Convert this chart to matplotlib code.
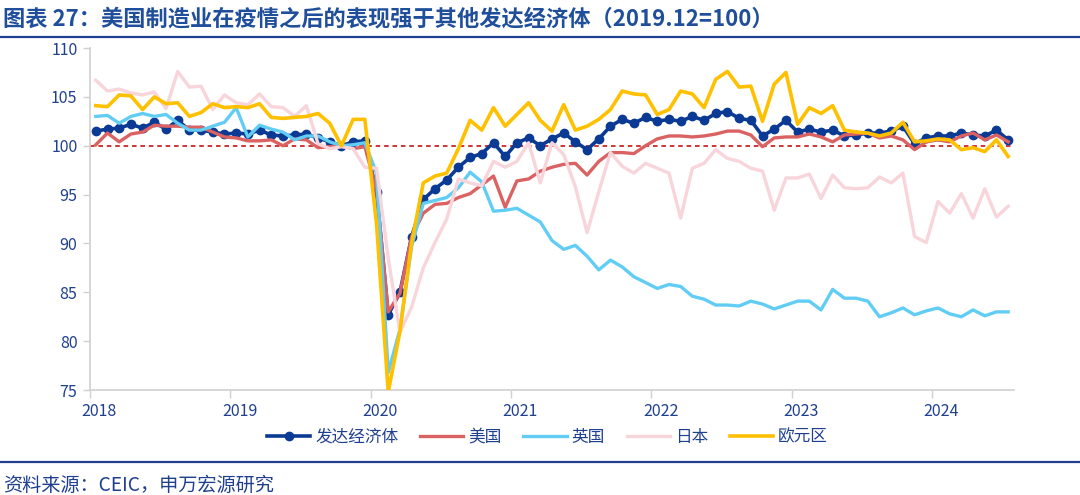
import numpy as np
import matplotlib.pyplot as plt
from matplotlib.lines import Line2D

plt.rcParams['font.family'] = ['Noto Sans CJK SC', 'DejaVu Sans']

# 月度数据 2018.01 - 2024.07 (2019.12=100)
years = ['2018', '2019', '2020', '2021', '2022', '2023', '2024']

dev_econ = [101.5, 101.7, 101.8, 102.2, 101.8, 102.4, 101.7, 102.6, 101.6, 101.6, 101.4, 101.2,
            101.3, 101.2, 101.6, 101.1, 101.0, 101.1, 101.2, 100.8, 100.4, 100.0, 100.4, 100.5,
            95.3, 82.7, 85.0, 90.7, 94.5, 95.6, 96.5, 97.8, 98.8, 99.2, 100.3, 98.9,
            100.3, 100.8, 100.0, 100.7, 101.3, 100.4, 99.6, 100.7, 102.0, 102.7, 102.3, 102.9,
            102.5, 102.7, 102.5, 103.0, 102.6, 103.3, 103.5, 102.8, 102.6, 101.0, 101.7, 102.6,
            101.4, 101.7, 101.4, 101.6, 101.0, 101.1, 101.3, 101.3, 101.5, 102.0, 100.2, 100.8,
            101.0, 101.0, 101.3, 101.1, 101.0, 101.6, 100.6]

usa = [100.1, 101.3, 100.4, 101.2, 101.4, 102.1, 102.0, 102.0, 101.9, 101.9, 101.4, 100.9,
       100.8, 100.5, 100.5, 100.6, 100.0, 100.7, 100.6, 99.8, 99.9, 100.0, 99.7, 99.9,
       95.5, 83.0, 84.9, 90.7, 93.1, 94.0, 94.1, 94.7, 95.1, 96.0, 96.9, 93.7,
       96.4, 96.6, 97.4, 97.8, 98.1, 98.2, 97.0, 98.4, 99.3, 99.3, 99.2, 100.0,
       100.7, 101.0, 101.0, 100.9, 101.0, 101.2, 101.5, 101.5, 101.1, 99.9, 100.8, 100.9,
       100.9, 101.2, 100.9, 100.4, 101.1, 101.2, 101.3, 100.8, 101.0, 100.6, 99.6, 100.4,
       100.6, 100.4, 101.0, 101.3, 100.6, 101.1, 100.4]

uk = [103.0, 103.1, 102.3, 103.0, 103.3, 103.0, 103.2, 102.3, 101.6, 101.6, 102.0, 102.4,
      103.9, 100.9, 102.1, 101.7, 101.4, 100.6, 101.0, 101.0, 100.4, 100.0, 100.1, 100.3,
      97.2, 76.8, 81.2, 89.7, 94.1, 94.4, 94.7, 95.7, 97.3, 96.3, 93.3, 93.4,
      93.6, 92.9, 92.2, 90.3, 89.4, 89.8, 88.7, 87.3, 88.3, 87.6, 86.6, 86.0,
      85.4, 85.8, 85.6, 84.6, 84.3, 83.7, 83.7, 83.6, 84.1, 83.8, 83.3, 83.7,
      84.1, 84.1, 83.2, 85.3, 84.4, 84.4, 84.1, 82.5, 82.9, 83.4, 82.7, 83.1,
      83.4, 82.8, 82.5, 83.2, 82.6, 83.0, 83.0]

japan = [106.7, 105.6, 105.8, 105.4, 105.2, 105.5, 103.8, 107.6, 106.0, 106.1, 103.7, 105.2,
         104.4, 104.2, 105.3, 104.0, 103.9, 103.0, 104.1, 100.2, 99.7, 99.9, 99.7, 97.8,
         97.7, 88.5, 80.9, 83.5, 87.5, 90.1, 92.5, 96.6, 96.2, 95.9, 98.4, 97.8,
         98.4, 100.3, 96.2, 100.3, 99.1, 95.8, 91.1, 95.3, 99.3, 97.9, 97.2, 98.2,
         97.7, 97.2, 92.6, 97.7, 98.2, 99.6, 98.7, 98.4, 97.7, 97.4, 93.4, 96.7,
         96.7, 97.1, 94.6, 97.0, 95.7, 95.6, 95.7, 96.8, 96.2, 97.2, 90.7, 90.1,
         94.3, 93.1, 95.1, 92.6, 95.6, 92.7, 93.8]

euro = [104.1, 104.0, 105.2, 105.1, 103.7, 105.0, 104.3, 104.4, 103.0, 103.4, 104.3, 103.9,
        104.0, 103.9, 104.3, 102.9, 102.8, 102.9, 103.0, 103.3, 102.3, 100.0, 102.7, 102.7,
        92.0, 74.8, 81.0, 90.1, 96.2, 96.9, 97.2, 99.7, 102.6, 101.6, 103.9, 102.0,
        103.2, 104.4, 102.6, 101.5, 104.2, 101.6, 102.0, 102.7, 103.7, 105.6, 105.3, 105.2,
        103.2, 103.7, 105.6, 105.3, 103.9, 106.8, 107.6, 106.0, 106.1, 102.5, 106.3, 107.5,
        102.2, 103.9, 103.3, 104.1, 101.6, 101.4, 101.3, 101.0, 101.3, 102.4, 100.4, 100.5,
        100.7, 100.6, 99.6, 99.8, 99.4, 100.6, 98.9]

text_color = '#1F3F8F'
x = np.arange(len(dev_econ))

fig = plt.figure(figsize=(10.8, 4.95), dpi=100)
ax = fig.add_axes([0.0833, 0.212, 0.8556, 0.691])

ax.axhline(100, color='#C00000', lw=1.1, ls=(0, (3, 2.5)), zorder=1)
ax.plot(x, dev_econ, color='#0B3A94', lw=2.6, marker='o', ms=6, zorder=2, label='发达经济体')
ax.plot(x, usa, color='#DA6262', lw=2.4, zorder=3, label='美国')
ax.plot(x, uk, color='#62CDF4', lw=2.4, zorder=4, label='英国')
ax.plot(x, japan, color='#F8D4DB', lw=2.4, zorder=5, label='日本')
ax.plot(x, euro, color='#FFC000', lw=2.6, zorder=6, label='欧元区')

ax.set_xlim(-0.5, len(x) - 0.5)
ax.set_ylim(75, 110)
ax.set_yticks(np.arange(75, 111, 5))

# 刻度在年份分界处，标签放在1月位置
ax.set_xticks(np.arange(-0.5, len(x), 12))
ax.set_xticklabels([])
ax.set_xticks(np.arange(0, len(x), 12) + 0.3, minor=True)
ax.set_xticklabels(years, minor=True)
ax.tick_params(axis='x', which='major', length=6, color='#D0D0D0', width=1)
ax.tick_params(axis='x', which='minor', length=0, pad=9, labelsize=11.5, labelcolor=text_color)
ax.tick_params(axis='y', length=5, color='#D0D0D0', width=1, pad=4, labelsize=11.5,
               labelcolor=text_color)

for s in ['top', 'right']:
    ax.spines[s].set_visible(False)
for s in ['left', 'bottom']:
    ax.spines[s].set_color('#D0D0D0')
    ax.spines[s].set_linewidth(1.2)

fig.legend(loc='center', bbox_to_anchor=(0.507, 0.117), ncol=5, frameon=False,
           fontsize=12, handlelength=2.6, handletextpad=0.3, columnspacing=1.3,
           labelcolor=text_color)

fig.text(0.003, 0.962, '图表 27：美国制造业在疫情之后的表现强于其他发达经济体（2019.12=100）',
         fontsize=16, fontweight='bold', color='#1F4E9A', va='center', ha='left')
fig.add_artist(Line2D([0, 1], [0.926, 0.926], transform=fig.transFigure, color='#1F3F8F', lw=1.6))
fig.add_artist(Line2D([0, 1], [0.066, 0.066], transform=fig.transFigure, color='#1F3F8F', lw=1.6))
fig.text(0.003, 0.02, '资料来源：CEIC，申万宏源研究', fontsize=13.8, color=text_color,
         va='center', ha='left')

fig.savefig('out.png', dpi=100)
